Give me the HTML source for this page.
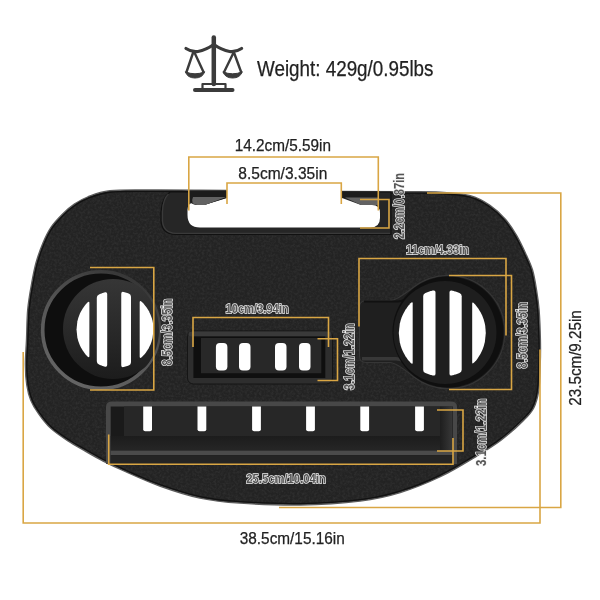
<!DOCTYPE html>
<html><head><meta charset="utf-8"><style>
html,body{margin:0;padding:0;background:#fff;width:600px;height:600px;overflow:hidden}
svg{display:block;will-change:transform}
text{font-family:"Liberation Sans",sans-serif}
</style></head><body>
<svg width="600" height="600" viewBox="0 0 600 600">
<rect width="600" height="600" fill="#fff"/>
<g fill="none" stroke="#3b3b3b" stroke-linecap="round" stroke-linejoin="round">
<line x1="213.8" y1="37.5" x2="213.8" y2="84" stroke-width="4.5"/>
<path d="M186,48.5 Q192,52.5 198,51.5 Q206,50 213.8,44.5 Q221.6,50 229.6,51.5 Q235.6,52.5 241.6,48.5" stroke-width="3.2"/>
<path d="M193.5,51.5 L186.5,72 M194,51.5 L203.5,72 M234.1,51.5 L224.1,72 M233.6,51.5 L241.1,72" stroke-width="2.4"/>
<path d="M202.5,84 L202.5,88 M225.5,84 L225.5,88 M202.5,84 L225.5,84" stroke-width="2.2"/>
<line x1="195" y1="90" x2="232.5" y2="90" stroke-width="4"/>
</g>
<path d="M185.3,71.8 Q195,75.8 204.7,71.8 Q202.5,78 195,78 Q187.5,78 185.3,71.8Z" fill="#3b3b3b" stroke="#3b3b3b" stroke-width="1" stroke-linejoin="round"/>
<path d="M222.9,71.8 Q232.6,75.8 242.3,71.8 Q240.1,78 232.6,78 Q225.1,78 222.9,71.8Z" fill="#3b3b3b" stroke="#3b3b3b" stroke-width="1" stroke-linejoin="round"/>

<path d="M150.0,190.8 C135.0,190.9 120.4,190.4 110.0,191.6 C99.6,192.8 93.7,195.6 87.8,197.8 C81.9,200.0 78.9,202.0 74.8,204.8 C70.7,207.6 67.0,210.7 63.2,214.5 C59.4,218.3 55.0,222.8 51.8,227.5 C48.6,232.2 46.3,237.1 43.8,243.0 C41.3,248.9 38.8,255.8 36.8,263.0 C34.8,270.2 33.4,278.2 32.0,286.0 C30.6,293.8 29.3,301.0 28.5,310.0 C27.7,319.0 27.7,330.8 27.3,340.0 C26.9,349.2 26.1,357.5 26.2,365.0 C26.2,372.5 26.7,379.2 27.6,385.0 C28.5,390.8 29.6,395.3 31.5,400.0 C33.4,404.7 35.8,408.5 39.0,413.0 C42.2,417.5 45.7,422.5 50.5,427.0 C55.3,431.5 62.1,436.1 68.0,440.0 C73.9,443.9 80.1,447.2 86.0,450.6 C91.9,454.0 96.8,456.9 103.5,460.3 C110.2,463.7 116.6,466.8 126.0,471.0 C135.4,475.2 147.7,480.9 160.0,485.3 C172.3,489.7 186.7,494.5 200.0,497.3 C213.3,500.1 223.3,501.2 240.0,502.3 C256.7,503.4 280.0,504.5 300.0,504.2 C320.0,503.9 343.3,502.4 360.0,500.3 C376.7,498.2 386.7,495.9 400.0,491.8 C413.3,487.8 427.3,482.0 440.0,476.0 C452.7,470.0 465.9,461.7 476.0,455.6 C486.1,449.5 492.6,445.6 500.5,439.6 C508.4,433.6 517.8,425.0 523.2,419.6 C528.6,414.2 530.5,412.4 533.0,407.5 C535.5,402.6 536.9,397.1 538.0,390.0 C539.1,382.9 539.1,373.3 539.4,365.0 C539.7,356.7 539.8,349.2 539.6,340.0 C539.4,330.8 538.9,318.3 538.3,310.0 C537.6,301.7 536.8,296.7 535.7,290.0 C534.6,283.3 533.5,276.0 531.7,270.0 C529.9,264.0 527.6,259.7 525.0,254.0 C522.4,248.3 519.3,241.7 516.0,236.0 C512.7,230.3 509.4,225.0 505.0,220.0 C500.6,215.0 495.3,209.9 489.5,206.0 C483.7,202.1 478.2,198.7 470.0,196.5 C461.8,194.3 451.7,193.7 440.0,193.0 C428.3,192.3 423.3,192.7 400.0,192.5 C376.7,192.3 333.3,192.2 300.0,192.0 C266.7,191.8 225.0,191.2 200.0,191.0 C175.0,190.8 165.0,190.7 150.0,190.8Z" fill="none" stroke="#5c5c5c" stroke-width="3.0"/>
<path d="M150.0,190.8 C135.0,190.9 120.4,190.4 110.0,191.6 C99.6,192.8 93.7,195.6 87.8,197.8 C81.9,200.0 78.9,202.0 74.8,204.8 C70.7,207.6 67.0,210.7 63.2,214.5 C59.4,218.3 55.0,222.8 51.8,227.5 C48.6,232.2 46.3,237.1 43.8,243.0 C41.3,248.9 38.8,255.8 36.8,263.0 C34.8,270.2 33.4,278.2 32.0,286.0 C30.6,293.8 29.3,301.0 28.5,310.0 C27.7,319.0 27.7,330.8 27.3,340.0 C26.9,349.2 26.1,357.5 26.2,365.0 C26.2,372.5 26.7,379.2 27.6,385.0 C28.5,390.8 29.6,395.3 31.5,400.0 C33.4,404.7 35.8,408.5 39.0,413.0 C42.2,417.5 45.7,422.5 50.5,427.0 C55.3,431.5 62.1,436.1 68.0,440.0 C73.9,443.9 80.1,447.2 86.0,450.6 C91.9,454.0 96.8,456.9 103.5,460.3 C110.2,463.7 116.6,466.8 126.0,471.0 C135.4,475.2 147.7,480.9 160.0,485.3 C172.3,489.7 186.7,494.5 200.0,497.3 C213.3,500.1 223.3,501.2 240.0,502.3 C256.7,503.4 280.0,504.5 300.0,504.2 C320.0,503.9 343.3,502.4 360.0,500.3 C376.7,498.2 386.7,495.9 400.0,491.8 C413.3,487.8 427.3,482.0 440.0,476.0 C452.7,470.0 465.9,461.7 476.0,455.6 C486.1,449.5 492.6,445.6 500.5,439.6 C508.4,433.6 517.8,425.0 523.2,419.6 C528.6,414.2 530.5,412.4 533.0,407.5 C535.5,402.6 536.9,397.1 538.0,390.0 C539.1,382.9 539.1,373.3 539.4,365.0 C539.7,356.7 539.8,349.2 539.6,340.0 C539.4,330.8 538.9,318.3 538.3,310.0 C537.6,301.7 536.8,296.7 535.7,290.0 C534.6,283.3 533.5,276.0 531.7,270.0 C529.9,264.0 527.6,259.7 525.0,254.0 C522.4,248.3 519.3,241.7 516.0,236.0 C512.7,230.3 509.4,225.0 505.0,220.0 C500.6,215.0 495.3,209.9 489.5,206.0 C483.7,202.1 478.2,198.7 470.0,196.5 C461.8,194.3 451.7,193.7 440.0,193.0 C428.3,192.3 423.3,192.7 400.0,192.5 C376.7,192.3 333.3,192.2 300.0,192.0 C266.7,191.8 225.0,191.2 200.0,191.0 C175.0,190.8 165.0,190.7 150.0,190.8Z" fill="#232323"/>
<defs><filter id="tex" x="0" y="0" width="100%" height="100%"><feTurbulence type="fractalNoise" baseFrequency="0.42" numOctaves="3" seed="3" result="n"/><feColorMatrix in="n" type="matrix" values="0 0 0 0 0.5  0 0 0 0 0.5  0 0 0 0 0.5  0 0 0 -1.6 1.05"/><feComposite in2="SourceGraphic" operator="in"/></filter><clipPath id="trayClip"><path d="M150.0,190.8 C135.0,190.9 120.4,190.4 110.0,191.6 C99.6,192.8 93.7,195.6 87.8,197.8 C81.9,200.0 78.9,202.0 74.8,204.8 C70.7,207.6 67.0,210.7 63.2,214.5 C59.4,218.3 55.0,222.8 51.8,227.5 C48.6,232.2 46.3,237.1 43.8,243.0 C41.3,248.9 38.8,255.8 36.8,263.0 C34.8,270.2 33.4,278.2 32.0,286.0 C30.6,293.8 29.3,301.0 28.5,310.0 C27.7,319.0 27.7,330.8 27.3,340.0 C26.9,349.2 26.1,357.5 26.2,365.0 C26.2,372.5 26.7,379.2 27.6,385.0 C28.5,390.8 29.6,395.3 31.5,400.0 C33.4,404.7 35.8,408.5 39.0,413.0 C42.2,417.5 45.7,422.5 50.5,427.0 C55.3,431.5 62.1,436.1 68.0,440.0 C73.9,443.9 80.1,447.2 86.0,450.6 C91.9,454.0 96.8,456.9 103.5,460.3 C110.2,463.7 116.6,466.8 126.0,471.0 C135.4,475.2 147.7,480.9 160.0,485.3 C172.3,489.7 186.7,494.5 200.0,497.3 C213.3,500.1 223.3,501.2 240.0,502.3 C256.7,503.4 280.0,504.5 300.0,504.2 C320.0,503.9 343.3,502.4 360.0,500.3 C376.7,498.2 386.7,495.9 400.0,491.8 C413.3,487.8 427.3,482.0 440.0,476.0 C452.7,470.0 465.9,461.7 476.0,455.6 C486.1,449.5 492.6,445.6 500.5,439.6 C508.4,433.6 517.8,425.0 523.2,419.6 C528.6,414.2 530.5,412.4 533.0,407.5 C535.5,402.6 536.9,397.1 538.0,390.0 C539.1,382.9 539.1,373.3 539.4,365.0 C539.7,356.7 539.8,349.2 539.6,340.0 C539.4,330.8 538.9,318.3 538.3,310.0 C537.6,301.7 536.8,296.7 535.7,290.0 C534.6,283.3 533.5,276.0 531.7,270.0 C529.9,264.0 527.6,259.7 525.0,254.0 C522.4,248.3 519.3,241.7 516.0,236.0 C512.7,230.3 509.4,225.0 505.0,220.0 C500.6,215.0 495.3,209.9 489.5,206.0 C483.7,202.1 478.2,198.7 470.0,196.5 C461.8,194.3 451.7,193.7 440.0,193.0 C428.3,192.3 423.3,192.7 400.0,192.5 C376.7,192.3 333.3,192.2 300.0,192.0 C266.7,191.8 225.0,191.2 200.0,191.0 C175.0,190.8 165.0,190.7 150.0,190.8Z"/></clipPath></defs>
<rect x="20" y="185" width="530" height="325" fill="#fff" filter="url(#tex)" clip-path="url(#trayClip)" opacity="0.10"/>
<path d="M150.0,190.8 C135.0,190.9 120.4,190.4 110.0,191.6 C99.6,192.8 93.7,195.6 87.8,197.8 C81.9,200.0 78.9,202.0 74.8,204.8 C70.7,207.6 67.0,210.7 63.2,214.5 C59.4,218.3 55.0,222.8 51.8,227.5 C48.6,232.2 46.3,237.1 43.8,243.0 C41.3,248.9 38.8,255.8 36.8,263.0 C34.8,270.2 33.4,278.2 32.0,286.0 C30.6,293.8 29.3,301.0 28.5,310.0 C27.7,319.0 27.7,330.8 27.3,340.0 C26.9,349.2 26.1,357.5 26.2,365.0 C26.2,372.5 26.7,379.2 27.6,385.0 C28.5,390.8 29.6,395.3 31.5,400.0 C33.4,404.7 35.8,408.5 39.0,413.0 C42.2,417.5 45.7,422.5 50.5,427.0 C55.3,431.5 62.1,436.1 68.0,440.0 C73.9,443.9 80.1,447.2 86.0,450.6 C91.9,454.0 96.8,456.9 103.5,460.3 C110.2,463.7 116.6,466.8 126.0,471.0 C135.4,475.2 147.7,480.9 160.0,485.3 C172.3,489.7 186.7,494.5 200.0,497.3 C213.3,500.1 223.3,501.2 240.0,502.3 C256.7,503.4 280.0,504.5 300.0,504.2 C320.0,503.9 343.3,502.4 360.0,500.3 C376.7,498.2 386.7,495.9 400.0,491.8 C413.3,487.8 427.3,482.0 440.0,476.0 C452.7,470.0 465.9,461.7 476.0,455.6 C486.1,449.5 492.6,445.6 500.5,439.6 C508.4,433.6 517.8,425.0 523.2,419.6 C528.6,414.2 530.5,412.4 533.0,407.5 C535.5,402.6 536.9,397.1 538.0,390.0 C539.1,382.9 539.1,373.3 539.4,365.0 C539.7,356.7 539.8,349.2 539.6,340.0 C539.4,330.8 538.9,318.3 538.3,310.0 C537.6,301.7 536.8,296.7 535.7,290.0 C534.6,283.3 533.5,276.0 531.7,270.0 C529.9,264.0 527.6,259.7 525.0,254.0 C522.4,248.3 519.3,241.7 516.0,236.0 C512.7,230.3 509.4,225.0 505.0,220.0 C500.6,215.0 495.3,209.9 489.5,206.0 C483.7,202.1 478.2,198.7 470.0,196.5 C461.8,194.3 451.7,193.7 440.0,193.0 C428.3,192.3 423.3,192.7 400.0,192.5 C376.7,192.3 333.3,192.2 300.0,192.0 C266.7,191.8 225.0,191.2 200.0,191.0 C175.0,190.8 165.0,190.7 150.0,190.8Z" fill="none" stroke="#121212" stroke-width="2.6" clip-path="url(#trayClip)"/>
<path d="M170,192 L391,192 L391,234.5 L176,234.5 Q162,234.5 161,221 L161,212 Q162,198 170,192Z" fill="#262626" stroke="#111" stroke-width="1.2"/><path d="M168.5,194 Q163,199 162.5,211 L162.5,221 Q163.5,233 176,233.3 L390,233.3" fill="none" stroke="#3a3a3a" stroke-width="1.3"/>
<path d="M227,186 L342,186 L342,198 L361,205 L372,205 Q380,205 380,213 L380,218 Q380,227.5 370,227.5 L200,227.5 Q187.5,227.5 187.5,215 L187.5,210 Q187.5,204 192,203 L204,205 L226,198Z" fill="#fff"/>
<path d="M189,190.5 L227,190.5 L227,198 L204,205 L196,205 Q190,204 190,200Z" fill="#1c1c1c"/>
<path d="M193,197 L226,197 L205,205 L197,205 Q190,204 193,197Z" fill="#626262"/>
<path d="M342,191.5 L380,191.5 L380,198 L342,198Z" fill="#1c1c1c"/>
<path d="M345,197.5 L379,197.5 L379,205 L361,205Z" fill="#626262"/>
<defs><linearGradient id="discL" x1="0" y1="0" x2="0" y2="1"><stop offset="0" stop-color="#363636"/><stop offset="0.6" stop-color="#272727"/><stop offset="1" stop-color="#1c1c1c"/></linearGradient><clipPath id="rimL"><circle cx="101" cy="330" r="58"/></clipPath><linearGradient id="rimG" x1="0.8" y1="0" x2="0.2" y2="1"><stop offset="0" stop-color="#333"/><stop offset="0.5" stop-color="#555"/><stop offset="1" stop-color="#666"/></linearGradient></defs>
<circle cx="101" cy="330" r="58.3" fill="#0e0e0e" stroke="url(#rimG)" stroke-width="3.6"/>
<circle cx="113" cy="329" r="50" fill="url(#discL)" clip-path="url(#rimL)"/>
<path d="M76.50,329.50 L77.39,321.26 L78.28,317.92 L79.17,315.40 L80.07,313.32 L80.96,311.52 L81.85,309.92 L82.74,308.48 L83.63,307.18 L84.53,305.97 L85.42,304.86 L86.31,303.83 L87.20,302.87 Q89.40,300.74 89.40,302.94 L89.40,356.06 Q89.40,358.26 87.20,356.13 L86.31,355.17 L85.42,354.14 L84.53,353.03 L83.63,351.82 L82.74,350.52 L81.85,349.08 L80.96,347.48 L80.07,345.68 L79.17,343.60 L78.28,341.08 L77.39,337.74 L76.50,329.50Z" fill="#fff"/><path d="M96.80,297.77 Q96.80,295.57 99.00,294.48 L99.50,294.26 L100.00,294.04 L100.50,293.83 L101.00,293.64 L101.50,293.44 L102.00,293.26 L102.50,293.09 L103.00,292.92 L103.50,292.76 L104.00,292.60 L104.50,292.46 L105.00,292.32 Q107.20,291.80 107.20,294.00 L107.20,365.00 Q107.20,367.20 105.00,366.68 L104.50,366.54 L104.00,366.40 L103.50,366.24 L103.00,366.08 L102.50,365.91 L102.00,365.74 L101.50,365.56 L101.00,365.36 L100.50,365.17 L100.00,364.96 L99.50,364.74 L99.00,364.52 Q96.80,363.43 96.80,361.23Z" fill="#fff"/><path d="M121.25,293.71 Q121.25,291.51 123.45,291.94 L123.90,292.04 L124.34,292.15 L124.79,292.26 L125.23,292.38 L125.68,292.51 L126.12,292.64 L126.57,292.78 L127.02,292.92 L127.46,293.07 L127.91,293.23 L128.35,293.39 L128.80,293.56 Q131.00,294.48 131.00,296.68 L131.00,362.32 Q131.00,364.52 128.80,365.44 L128.35,365.61 L127.91,365.77 L127.46,365.93 L127.02,366.08 L126.57,366.22 L126.12,366.36 L125.68,366.49 L125.23,366.62 L124.79,366.74 L124.34,366.85 L123.90,366.96 L123.45,367.06 Q121.25,367.49 121.25,365.29Z" fill="#fff"/><path d="M139.70,302.17 Q139.70,299.97 141.90,301.96 L142.68,302.74 L143.47,303.58 L144.25,304.47 L145.03,305.41 L145.82,306.42 L146.60,307.51 L147.38,308.68 L148.17,309.95 L148.95,311.34 L149.73,312.89 L150.52,314.64 L151.30,316.67 L151.85,318.35 L152.40,320.36 L152.95,323.02 L153.50,329.50 L153.50,329.50 L152.53,338.07 L151.57,341.55 L150.60,344.16 L149.63,346.32 L148.67,348.18 L147.70,349.82 L146.73,351.30 L145.77,352.64 L144.80,353.88 L143.83,355.01 L142.87,356.06 L141.90,357.04 Q139.70,359.03 139.70,356.83Z" fill="#fff"/>
<path d="M413.5,287.3 Q396.2,300.7 390,300.7 L366,300.7 Q359.5,300.7 359.5,307 L359.5,356 Q359.5,362.5 366,362.5 L390,362.5 Q396.2,362.5 413.5,376.7 A56.6,56.6 0 1 0 413.5,287.3Z" fill="#1f1f1f" stroke="#363636" stroke-width="1.1"/>
<path d="M362,358.8 L396,358.8 Q403,358.8 411,365.5" fill="none" stroke="#383838" stroke-width="3.5"/>
<path d="M364,301.5 L398,301.5 Q404,301.5 412,294" fill="none" stroke="#111" stroke-width="1.8"/>
<circle cx="448" cy="332" r="55.5" fill="#0f0f0f"/>
<circle cx="445" cy="332.5" r="51.5" fill="#1e1e1e"/>
<path d="M398.80,333.00 L399.78,323.84 L400.75,320.12 L401.73,317.32 L402.70,315.00 L403.68,312.99 L404.65,311.21 L405.62,309.61 L406.60,308.15 L407.57,306.80 L408.55,305.56 L409.52,304.40 L410.50,303.32 Q412.70,301.12 412.70,303.32 L412.70,362.68 Q412.70,364.88 410.50,362.68 L409.52,361.60 L408.55,360.44 L407.57,359.20 L406.60,357.85 L405.62,356.39 L404.65,354.79 L403.68,353.01 L402.70,351.00 L401.73,348.68 L400.75,345.88 L399.78,342.16 L398.80,333.00Z" fill="#fff"/><path d="M423.20,296.12 Q423.20,293.92 425.40,292.92 L426.06,292.65 L426.72,292.39 L427.38,292.14 L428.03,291.91 L428.69,291.68 L429.35,291.47 L430.01,291.27 L430.67,291.08 L431.32,290.91 L431.98,290.74 L432.64,290.59 L433.30,290.44 Q435.50,290.03 435.50,292.23 L435.50,373.77 Q435.50,375.97 433.30,375.56 L432.64,375.41 L431.98,375.26 L431.32,375.09 L430.67,374.92 L430.01,374.73 L429.35,374.53 L428.69,374.32 L428.03,374.09 L427.38,373.86 L426.72,373.61 L426.06,373.35 L425.40,373.08 Q423.20,372.08 423.20,369.88Z" fill="#fff"/><path d="M449.50,292.30 Q449.50,290.10 451.70,290.53 L452.35,290.68 L453.00,290.84 L453.65,291.01 L454.30,291.19 L454.95,291.38 L455.60,291.58 L456.25,291.80 L456.90,292.02 L457.55,292.26 L458.20,292.51 L458.85,292.77 L459.50,293.04 Q461.70,294.07 461.70,296.27 L461.70,369.73 Q461.70,371.93 459.50,372.96 L458.85,373.23 L458.20,373.49 L457.55,373.74 L456.90,373.98 L456.25,374.20 L455.60,374.42 L454.95,374.62 L454.30,374.81 L453.65,374.99 L453.00,375.16 L452.35,375.32 L451.70,375.47 Q449.50,375.90 449.50,373.70Z" fill="#fff"/><path d="M472.20,303.61 Q472.20,301.41 474.40,303.64 L475.17,304.50 L475.93,305.41 L476.70,306.38 L477.47,307.40 L478.23,308.48 L479.00,309.65 L479.77,310.90 L480.53,312.25 L481.30,313.73 L482.07,315.37 L482.83,317.21 L483.60,319.34 L484.15,321.13 L484.70,323.28 L485.25,326.10 L485.80,333.00 L485.80,333.00 L484.85,342.04 L483.90,345.72 L482.95,348.49 L482.00,350.78 L481.05,352.77 L480.10,354.53 L479.15,356.12 L478.20,357.57 L477.25,358.90 L476.30,360.13 L475.35,361.28 L474.40,362.36 Q472.20,364.59 472.20,362.39Z" fill="#fff"/>
<rect x="187.5" y="331" width="145" height="53" rx="6" fill="#2e2e2e" stroke="#151515" stroke-width="1"/>
<rect x="188.5" y="331.5" width="143" height="5" rx="3" fill="#3a3a3a"/>
<rect x="193.4" y="336.4" width="131.9" height="41.6" fill="#0f0f0f"/>
<rect x="201" y="338" width="120.3" height="35.2" fill="#282828"/>
<rect x="215.9" y="343.1" width="11.5" height="27.4" rx="4" fill="#fff"/>
<rect x="239.0" y="343.1" width="11.5" height="27.4" rx="4" fill="#fff"/>
<rect x="275.0" y="343.1" width="11.5" height="27.4" rx="4" fill="#fff"/>
<rect x="299.0" y="343.1" width="11.5" height="27.4" rx="4" fill="#fff"/>
<path d="M106,464 L106,407 Q106,401.5 112,401.5 L451,401.5 Q457,401.5 457,407 L457,464Z" fill="#484848"/>
<rect x="110.7" y="406.5" width="342.3" height="57.5" fill="#1a1a1a"/>
<rect x="124" y="406.5" width="316" height="29.5" fill="#272727"/>
<defs><linearGradient id="sideW" x1="0" y1="0" x2="1" y2="0"><stop offset="0" stop-color="#1e1e1e"/><stop offset="1" stop-color="#383838"/></linearGradient><linearGradient id="floorG" x1="0" y1="0" x2="0" y2="1"><stop offset="0" stop-color="#1c1c1c"/><stop offset="1" stop-color="#262626"/></linearGradient></defs>
<rect x="440" y="406.5" width="12.5" height="48.5" fill="url(#sideW)"/>
<rect x="110.7" y="436" width="329.3" height="14.6" fill="url(#floorG)"/>
<rect x="110.7" y="450.6" width="342.3" height="4.6" fill="#4b4b4b"/>
<rect x="110.7" y="455.2" width="342.3" height="8.8" fill="#242424"/>
<path d="M143.2,406.5 L152.0,406.5 L152.0,429.3 Q152.0,431.3 150.0,431.3 L145.2,431.3 Q143.2,431.3 143.2,429.3Z" fill="#fff"/>
<path d="M197.5,406.5 L206.3,406.5 L206.3,429.3 Q206.3,431.3 204.3,431.3 L199.5,431.3 Q197.5,431.3 197.5,429.3Z" fill="#fff"/>
<path d="M252.1,406.5 L260.9,406.5 L260.9,429.3 Q260.9,431.3 258.9,431.3 L254.1,431.3 Q252.1,431.3 252.1,429.3Z" fill="#fff"/>
<path d="M306.1,406.5 L314.9,406.5 L314.9,429.3 Q314.9,431.3 312.9,431.3 L308.1,431.3 Q306.1,431.3 306.1,429.3Z" fill="#fff"/>
<path d="M360.3,406.5 L369.1,406.5 L369.1,429.3 Q369.1,431.3 367.1,431.3 L362.3,431.3 Q360.3,431.3 360.3,429.3Z" fill="#fff"/>
<path d="M415.1,406.5 L423.9,406.5 L423.9,429.3 Q423.9,431.3 421.9,431.3 L417.1,431.3 Q415.1,431.3 415.1,429.3Z" fill="#fff"/>
<polyline points="188.8,210.5 188.8,157.0 378.3,157.0 378.3,210.5" fill="none" stroke="#d9a644" stroke-width="1.6" stroke-linejoin="miter"/>
<polyline points="227.0,204.0 227.0,183.0 341.3,183.0 341.3,204.0" fill="none" stroke="#d9a644" stroke-width="1.6" stroke-linejoin="miter"/>
<polyline points="360.0,199.5 389.0,199.5 389.0,228.0 360.0,228.0" fill="none" stroke="#d9a644" stroke-width="1.6" stroke-linejoin="miter"/>
<polyline points="427.0,193.0 560.8,193.0 560.8,507.5 279.0,507.5" fill="none" stroke="#d9a644" stroke-width="1.6" stroke-linejoin="miter"/>
<polyline points="23.2,352.0 23.2,523.0 540.0,523.0 540.0,349.5" fill="none" stroke="#d9a644" stroke-width="1.6" stroke-linejoin="miter"/>
<polyline points="90.0,267.5 153.8,267.5 153.8,390.0 90.0,390.0" fill="none" stroke="#d9a644" stroke-width="1.6" stroke-linejoin="miter"/>
<polyline points="193.0,347.0 193.0,317.5 328.5,317.5 328.5,347.0" fill="none" stroke="#d9a644" stroke-width="1.6" stroke-linejoin="miter"/>
<polyline points="317.5,338.7 337.5,338.7 337.5,380.5 317.5,380.5" fill="none" stroke="#d9a644" stroke-width="1.6" stroke-linejoin="miter"/>
<polyline points="359.0,326.5 359.0,258.5 506.0,258.5 506.0,335.5" fill="none" stroke="#d9a644" stroke-width="1.6" stroke-linejoin="miter"/>
<polyline points="449.0,275.5 511.5,275.5 511.5,389.5 449.0,389.5" fill="none" stroke="#d9a644" stroke-width="1.6" stroke-linejoin="miter"/>
<polyline points="108.7,434.5 108.7,464.3 453.0,464.3 453.0,438.0" fill="none" stroke="#d9a644" stroke-width="1.6" stroke-linejoin="miter"/>
<polyline points="437.0,410.0 463.0,410.0 463.0,451.0 437.0,451.0" fill="none" stroke="#d9a644" stroke-width="1.6" stroke-linejoin="miter"/>
<text x="257" y="75.6" font-size="22" textLength="176.5" lengthAdjust="spacingAndGlyphs" fill="#222" stroke="#222" stroke-width="0.25">Weight: 429g/0.95lbs</text>
<text x="234.8" y="150.5" font-size="16.4" textLength="96.2" lengthAdjust="spacingAndGlyphs" fill="#222" stroke="#222" stroke-width="0.25">14.2cm/5.59in</text>
<text x="238.3" y="178.5" font-size="16.4" textLength="89" lengthAdjust="spacingAndGlyphs" fill="#222" stroke="#222" stroke-width="0.25">8.5cm/3.35in</text>
<text x="239.75" y="544.4" font-size="16.4" textLength="105" lengthAdjust="spacingAndGlyphs" fill="#222" stroke="#222" stroke-width="0.25">38.5cm/15.16in</text>
<g transform="translate(581.3,405.7) rotate(-90)"><text x="0" y="0" font-size="16.8" textLength="95.5" lengthAdjust="spacingAndGlyphs" fill="#222" stroke="#222" stroke-width="0.25">23.5cm/9.25in</text></g>
<text x="225.6" y="313.1" font-size="13.5" textLength="63.1" lengthAdjust="spacingAndGlyphs" fill="#555" stroke="#f0f0f0" stroke-width="1.5" paint-order="stroke" font-weight="bold">10cm/3.94in</text>
<text x="406" y="253.9" font-size="13.5" textLength="63.2" lengthAdjust="spacingAndGlyphs" fill="#555" stroke="#f0f0f0" stroke-width="1.5" paint-order="stroke" font-weight="bold">11cm/4.33in</text>
<text x="246.3" y="483.3" font-size="13" textLength="79.5" lengthAdjust="spacingAndGlyphs" fill="#555" stroke="#f0f0f0" stroke-width="1.5" paint-order="stroke" font-weight="bold">25.5cm/10.04in</text>
<g transform="translate(172.4,365.8) rotate(-90)"><text x="0" y="0" font-size="14" textLength="67.3" lengthAdjust="spacingAndGlyphs" fill="#555" stroke="#f0f0f0" stroke-width="1.5" paint-order="stroke" font-weight="bold">8.5cm/3.35in</text></g>
<g transform="translate(527.1,368.6) rotate(-90)"><text x="0" y="0" font-size="14" textLength="66.6" lengthAdjust="spacingAndGlyphs" fill="#555" stroke="#f0f0f0" stroke-width="1.5" paint-order="stroke" font-weight="bold">8.5cm/3.35in</text></g>
<g transform="translate(354.3,390) rotate(-90)"><text x="0" y="0" font-size="14" textLength="66.7" lengthAdjust="spacingAndGlyphs" fill="#555" stroke="#f0f0f0" stroke-width="1.5" paint-order="stroke" font-weight="bold">3.1cm/1.22in</text></g>
<g transform="translate(485.7,466) rotate(-90)"><text x="0" y="0" font-size="14" textLength="67.3" lengthAdjust="spacingAndGlyphs" fill="#555" stroke="#f0f0f0" stroke-width="1.5" paint-order="stroke" font-weight="bold">3.1cm/1.22in</text></g>
<g transform="translate(404.3,239) rotate(-90)"><text x="0" y="0" font-size="14" textLength="66" lengthAdjust="spacingAndGlyphs" fill="#555" stroke="#f0f0f0" stroke-width="1.5" paint-order="stroke" font-weight="bold">2.2cm/0.87in</text></g>
</svg>
</body></html>
